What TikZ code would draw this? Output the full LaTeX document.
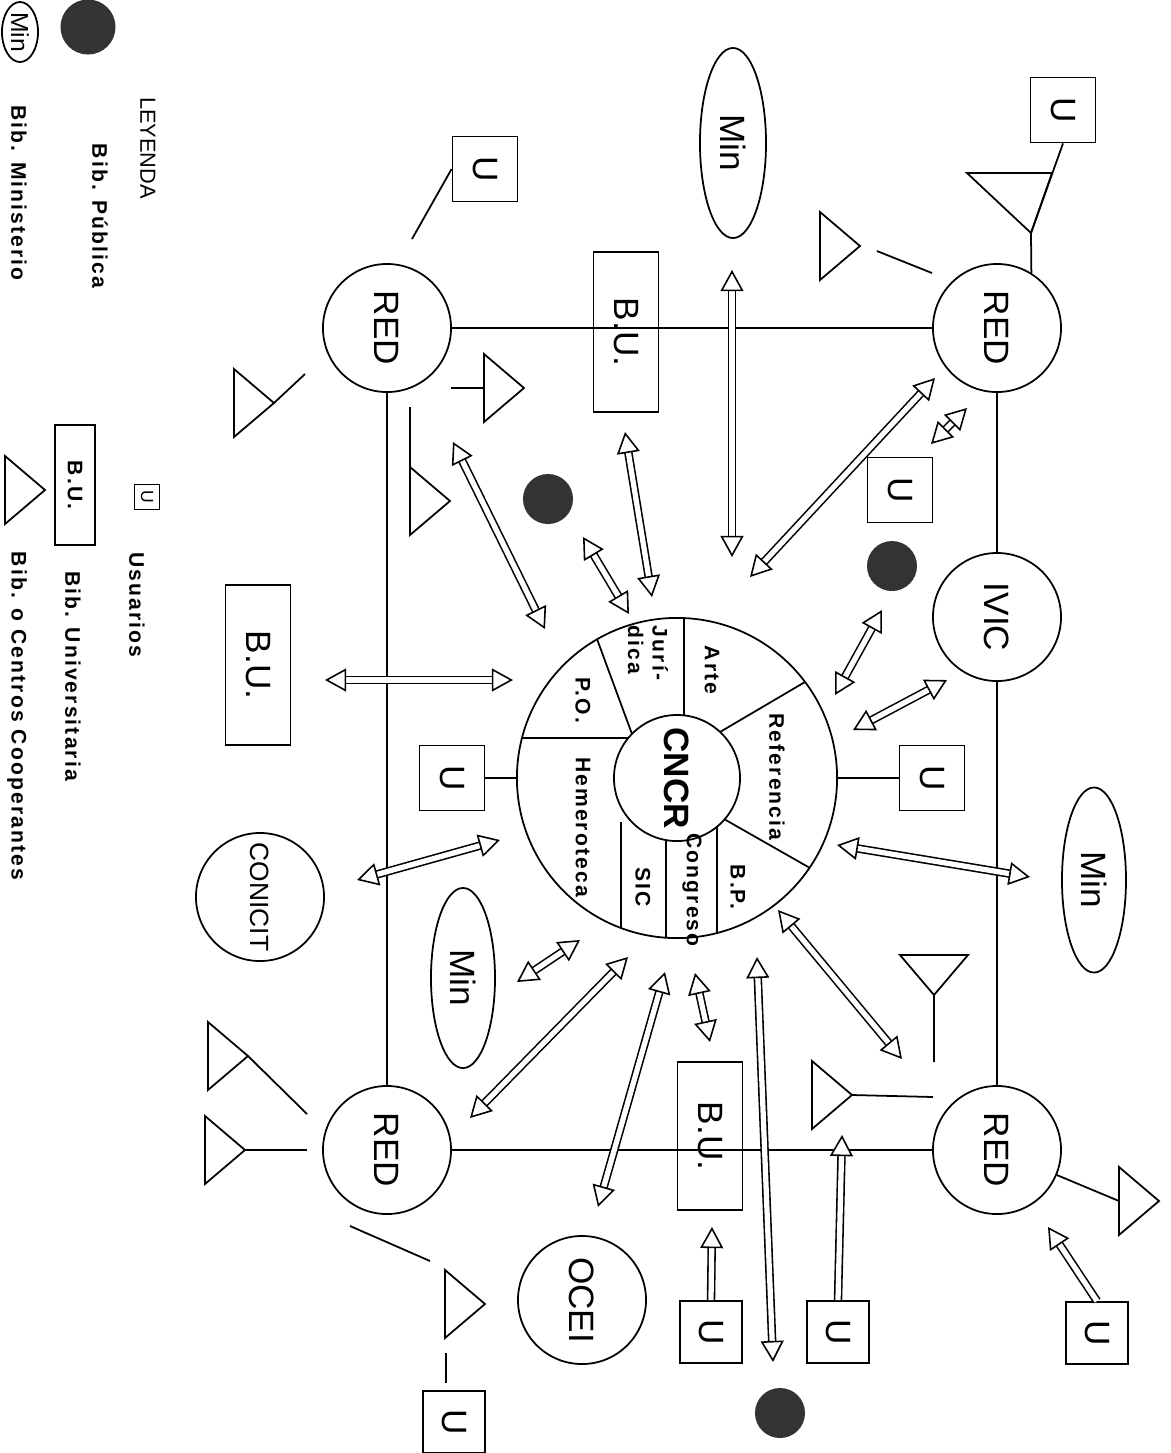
\documentclass[tikz,border=0pt]{standalone}
\usepackage{fontspec}
\setmainfont{Liberation Sans}
\newfontfamily\puntos[LetterSpace=10]{Liberation Sans}
\usepackage{graphicx}
\usetikzlibrary{calc,shapes.geometric,arrows.meta}
\newcommand{\girar}[1]{\rotatebox[origin=c]{-90}{#1}}
\def\coop(#1)(#2)[#3]{\coordinate (#1) at (#2);
	\draw[shift={(#2)}, rotate=#3] (0,-34) coordinate (#1-b) -- (40,0) coordinate (#1-a) -- (0,34) coordinate (#1-c) -- cycle;}
\tikzset{
	nodo/.style={circle, draw, minimum size=1.28cm, inner sep=0pt, font=\fontsize{10}{12}\selectfont},
	usr/.style={rectangle, draw, minimum size=0.65cm, inner sep=0pt, font=\fontsize{10}{12}\selectfont},
	univ/.style={rectangle, draw, minimum width=0.65cm, minimum height=1.6cm, inner sep=0pt, font=\fontsize{10}{12}\selectfont},
	mini/.style={ellipse, draw, minimum width=0.64cm, minimum height=1.85cm, inner sep=0pt, font=\fontsize{10}{12}\selectfont},
	pub/.style={circle, fill=black!80, minimum size=0.5cm, inner sep=0pt},
	sector/.style={rotate=-90, inner sep=0pt, font=\puntos\bfseries\fontsize{6}{7}\selectfont},
	punta/.style={Triangle[length=6pt, width=6.5pt, line width=0.45pt, fill=white]},
	flecha/.style={double, double distance=1.5pt, line width=0.45pt, {Triangle[length=6pt, width=6.5pt, line width=0.45pt, fill=white]}-{Triangle[length=6pt, width=6.5pt, line width=0.45pt, fill=white]}},
	sflecha/.style={double, double distance=1.5pt, line width=0.45pt, -{Triangle[length=6pt, width=6.5pt, line width=0.45pt, fill=white]}}
}
\begin{document}
\begin{tikzpicture}[x=0.01cm, y=-0.01cm, line width=0.5pt]
		%%%%% START %%%%%
		\useasboundingbox (0,0) rectangle (1171,1453);
		
		% leyenda
		\node[ellipse, draw, minimum width=0.36cm, minimum height=0.6cm, inner sep=0pt, font=\fontsize{7}{8}\selectfont] (leyMin) at (20,32) {\girar{Min}};
		\node[pub, minimum size=0.55cm] (leyPub) at (88,27) {};
		\node[rotate=-90, font=\fontsize{6.2}{7}\selectfont] (leyenda) at (148,148) {LEYENDA};
		\node[sector] (leyPubTxt) at (100,216) {Bib. Pública};
		\node[sector] (leyMinTxt) at (19,193) {Bib. Ministerio};
		\node[usr, minimum size=0.25cm, font=\fontsize{5}{6}\selectfont] (leyU) at (147,497) {\girar{U}};
		\node[sector] (leyUTxt) at (137,605) {Usuarios};
		\node[univ, minimum width=0.4cm, minimum height=1.2cm, font=\puntos\bfseries\fontsize{6}{7}\selectfont] (leyBU) at (75,485) {\girar{B.U.}};
		\node[sector] (leyBUTxt) at (73,676) {Bib. Universitaria};
		\coop(leyT)(5,490)[0]
		\node[sector] (leyTTxt) at (17,716) {Bib. o Centros Cooperantes};
		
		% centro
		\node[circle, draw, minimum size=3.2cm] (cncr) at (677,778) {};
		\node[circle, draw, minimum size=1.26cm, inner sep=0pt, font=\bfseries\fontsize{10}{12}\selectfont] (nucleo) at (677,778) {\girar{CNCR}};
		\draw (684,716) -- (684,618);
		\draw (597,639) -- (632,734);
		\draw (522,738) -- (628,738);
		\draw (805,682) -- (720,732);
		\draw (724,819) -- (810,868);
		\draw (717,827) -- (717,933);
		\draw (666,840) -- (666,937);
		\draw (621,822) -- (621,928);
		\node[sector] at (712,670) {Arte};
		\node[sector, align=left] at (648,653) {Jurí-\\dica};
		\node[sector] at (583,700) {P.O.};
		\node[sector] at (583,827) {Hemeroteca};
		\node[sector] at (777,777) {Referencia};
		\node[sector] at (738,887) {B.P.};
		\node[sector] at (692,890) {Congreso};
		\node[sector] at (643,887) {SIC};
		
		% redes
		\node[nodo] (redTL) at (387,328) {\girar{RED}};
		\node[nodo] (redTR) at (997,328) {\girar{RED}};
		\node[nodo] (redBL) at (387,1150) {\girar{RED}};
		\node[nodo] (redBR) at (997,1150) {\girar{RED}};
		\node[nodo] (ivic) at (997,617) {\girar{IVIC}};
		\node[nodo, font=\fontsize{7.5}{9}\selectfont] (conicit) at (260,897) {\girar{CONICIT}};
		\node[nodo] (ocei) at (582,1300) {\girar{OCEI}};
		\draw (redTL) -- (redTR) -- (ivic) -- (redBR) -- (redBL) -- (redTL);
		
		% ministerios y universidades
		\node[mini, minimum height=1.9cm, minimum width=0.66cm] (minT) at (733,143) {\girar{Min}};
		\node[mini] (minR) at (1094,880) {\girar{Min}};
		\node[mini, minimum height=1.8cm] (minL) at (463,978) {\girar{Min}};
		\node[univ] (buT) at (626,332) {\girar{B.U.}};
		\node[univ] (buL) at (258,665) {\girar{B.U.}};
		\node[univ, minimum height=1.48cm] (buB) at (710,1136) {\girar{B.U.}};
		
		% usuarios
		\node[usr] (uTR) at (1063,110) {\girar{U}};
		\node[usr] (uTL) at (485,169) {\girar{U}};
		\node[usr] (uR1) at (900,490) {\girar{U}};
		\node[usr] (uR) at (932,778) {\girar{U}};
		\node[usr] (uL) at (452,778) {\girar{U}};
		\node[usr, minimum size=0.62cm] (uB1) at (711,1332) {\girar{U}};
		\node[usr, minimum size=0.62cm] (uB2) at (838,1332) {\girar{U}};
		\node[usr, minimum size=0.62cm] (uBR) at (1097,1333) {\girar{U}};
		\node[usr, minimum size=0.62cm] (uBL) at (454,1422) {\girar{U}};
		\draw (cncr) -- (uL);
		\draw (cncr) -- (uR);
		
		% bibliotecas publicas
		\node[pub] (pub1) at (548,499) {};
		\node[pub] (pub2) at (892,566) {};
		\node[pub] (pub3) at (780,1413) {};
		
		% cooperantes
		\coop(t1)(234,403)[0]
		\coop(t2)(484,388)[0]
		\coop(t3)(410,501)[0]
		\coop(t4)(820,246)[0]
		\coop(t6)(934,955)[-90]
		\coop(t7)(812,1095)[0]
		\coop(t8)(1119,1201)[0]
		\coop(t9)(208,1056)[0]
		\coop(t10)(205,1150)[0]
		\coop(t11)(445,1304)[0]
		\draw (967,173) coordinate (t5-b) -- (1052,173) coordinate (t5-c) -- (1031,233) coordinate (t5-a) -- cycle;
		
		\coordinate (p1) at (412,239);
		\coordinate (p2) at (305,374);
		\coordinate (p3) at (451,388);
		\coordinate (p4) at (410,407);
		\coordinate (p5) at (877,251);
		\coordinate (p6) at (932,273);
		\coordinate (p7) at (934,1062);
		\coordinate (p8) at (933,1097);
		\coordinate (p9) at (307,1114);
		\coordinate (p10) at (307,1150);
		\coordinate (p11) at (350,1226);
		\coordinate (p12) at (430,1261);
		\coordinate (p13) at (446,1353);
		\coordinate (p14) at (446,1383);
		\draw (uTL.west) -- (p1);
		\draw (t1-a) -- (p2);
		\draw (p3) -- (t2);
		\draw (p4) -- (t3-c);
		\draw (p5) -- (p6);
		\draw (uTR.south) -- (t5-a) -- (redTR.58);
		\draw (t6-a) -- (p7);
		\draw (t7-a) -- (p8);
		\draw (redBR) -- (t8);
		\draw (t9-a) -- (p9);
		\draw (t10-a) -- (p10);
		\draw (p11) -- (p12);
		\draw (p13) -- (p14);
		
		% flechas
		\coordinate (f1-a) at (732,270);   \coordinate (f1-b) at (732,557);
		\coordinate (f2-a) at (625,432);   \coordinate (f2-b) at (652,597);
		\coordinate (f3-a) at (583,537);   \coordinate (f3-b) at (629,614);
		\coordinate (f4-a) at (453,442);   \coordinate (f4-b) at (545,629);
		\coordinate (f5-a) at (750,577);   \coordinate (f5-b) at (935,378);
		\coordinate (f6-a) at (931,444);   \coordinate (f6-b) at (967,408);
		\coordinate (f7-a) at (835,695);   \coordinate (f7-b) at (882,610);
		\coordinate (f8-a) at (853,730);   \coordinate (f8-b) at (947,680);
		\coordinate (f9-a) at (837,845);   \coordinate (f9-b) at (1030,877);
		\coordinate (f10-a) at (778,910);  \coordinate (f10-b) at (902,1059);
		\coordinate (f11-a) at (757,957);  \coordinate (f11-b) at (773,1362);
		\coordinate (f12-a) at (695,973);  \coordinate (f12-b) at (710,1042);
		\coordinate (f13-a) at (665,972);  \coordinate (f13-b) at (598,1207);
		\coordinate (f14-a) at (628,957);  \coordinate (f14-b) at (470,1118);
		\coordinate (f15-a) at (580,940);  \coordinate (f15-b) at (517,982);
		\coordinate (f16-a) at (500,840);  \coordinate (f16-b) at (357,880);
		\coordinate (f17-a) at (513,680);  \coordinate (f17-b) at (325,680);
		\foreach \i in {1,...,17}
			\draw[flecha] (f\i-a) -- (f\i-b);
		
		\coordinate (s1) at (842,1135);
		\coordinate (s2) at (712,1227);
		\coordinate (s3) at (1048,1227);
		\draw[sflecha] (uB2.north) -- (s1);
		\draw[sflecha] (uB1.north) -- (s2);
		\draw[sflecha] (uBR.north) -- (s3);
		
		%%%%% END %%%%%
	\end{tikzpicture}
\end{document}
